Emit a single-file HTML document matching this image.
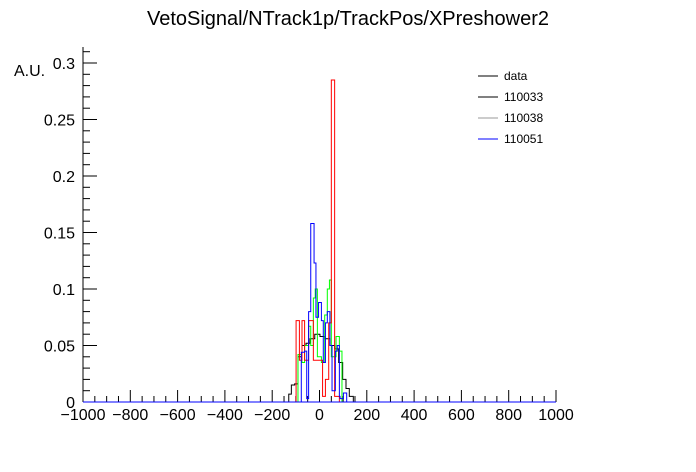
<!DOCTYPE html>
<html><head><meta charset="utf-8"><style>
body{margin:0;background:#fff;}
svg{display:block;font-family:"Liberation Sans",sans-serif;}
</style></head><body>
<svg id="c" width="696" height="472">
<text x="348" y="25" text-anchor="middle" font-size="20">VetoSignal/NTrack1p/TrackPos/XPreshower2</text>
<text x="14" y="76" font-size="16">A.U.</text>
<g id="axes"></g><g id="series"></g>
<g>
<line x1="478" y1="76" x2="498" y2="76" stroke="#000"/><text x="504" y="80" font-size="12">data</text>
<line x1="478" y1="97" x2="498" y2="97" stroke="#000"/><text x="504" y="101" font-size="12">110033</text>
<line x1="478" y1="118" x2="498" y2="118" stroke="#999"/><text x="504" y="122" font-size="12">110038</text>
<line x1="478" y1="139" x2="498" y2="139" stroke="#00f"/><text x="504" y="143" font-size="12">110051</text>
</g>
</svg>
<script>
const xTicks=[-1000,-800,-600,-400,-200,0,200,400,600,800,1000];
const yTicks=[0,0.05,0.1,0.15,0.2,0.25,0.3];
const redEdges=[-99,-85,-74,-63,-46,-26,-15,13,25,39,50,64,84];
const redVals=[0.072,0.037,0.072,0.037,0.072,0.037,0.037,0.005,0.02,0.07,0.285,0.005];
const greenEdges=[-91,-74,-63,-46,-37,-26,-18,-9,8,22,33,42,50,70,84,95];
const greenVals=[0.042,0.035,0.05,0.067,0.05,0.092,0.1,0.04,0.035,0.077,0.1,0.108,0.04,0.058,0.045];
const blueEdges=[-77,-63,-54,-46,-37,-23,-15,-4,8,16,25,33,44,53,67,75,84,87,101,115];
const blueVals=[0.044,0.045,0.003,0.08,0.158,0.123,0.075,0.088,0.072,0.035,0.07,0.08,0.05,0.01,0.045,0.05,0.005,0.003,0.008];
const dataEdges=[-130,-119,-105,-91,-74,-57,-40,-20,2,22,44,64,81,98,112,126,143];
const dataVals=[0.007,0.015,0.016,0.04,0.05,0.052,0.056,0.06,0.058,0.056,0.05,0.047,0.035,0.02,0.012,0.005];
const NS="http://www.w3.org/2000/svg";
const X0=83,X1=556,Y0=402,YT=47;
const xs=v=>X0+(v+1000)/2000*(X1-X0);
const ys=v=>Y0-v/0.3*(Y0-63);
function mk(t,a,p){const e=document.createElementNS(NS,t);for(const k in a)e.setAttribute(k,a[k]);p.appendChild(e);return e;}
const ax=document.getElementById('axes');
let l=mk('line',{x1:X0,y1:Y0,x2:X1,y2:Y0,stroke:'#000'},ax);


l=mk('line',{x1:X0,y1:Y0,x2:X0,y2:YT,stroke:'#000'},ax);


for(let v=-1000;v<=1000;v+=50){const maj=v%200===0;mk('line',{x1:xs(v),y1:Y0,x2:xs(v),y2:Y0-(maj?12:6),stroke:'#000'},ax);}
xTicks.forEach(v=>{const t=mk('text',{x:xs(v),y:Y0+18,'text-anchor':'middle','font-size':'16'},ax);t.textContent=(v<0?'\u2212'+(-v):v);

});
for(let i=0;i<=31;i++){const v=i*0.01;const maj=i%5===0;mk('line',{x1:X0,y1:ys(v),x2:X0+(maj?14:7),y2:ys(v),stroke:'#000'},ax);}
yTicks.forEach(v=>{const t=mk('text',{x:X0-8,y:ys(v)+6,'text-anchor':'end','font-size':'16'},ax);t.textContent=String(+v.toFixed(2));

});
const sg=document.getElementById('series');
function step(edges,vals,color,name){let d='M'+xs(edges[0])+','+Y0;vals.forEach((v,i)=>{d+=' L'+xs(edges[i])+','+ys(v)+' L'+xs(edges[i+1])+','+ys(v);});d+=' L'+xs(edges[edges.length-1])+','+Y0;
const p=mk('path',{d:d,fill:'none',stroke:color,'stroke-width':'1'},sg);

}
step(dataEdges,dataVals,'#000','series-data');
step(greenEdges,greenVals,'#0f0','series-green');
step(redEdges,redVals,'#f00','series-red');
step(blueEdges,blueVals,'#00f','series-blue');
mk('line',{x1:X0,y1:Y0,x2:X1,y2:Y0,stroke:'#00f'},sg);
</script>
</body></html>
